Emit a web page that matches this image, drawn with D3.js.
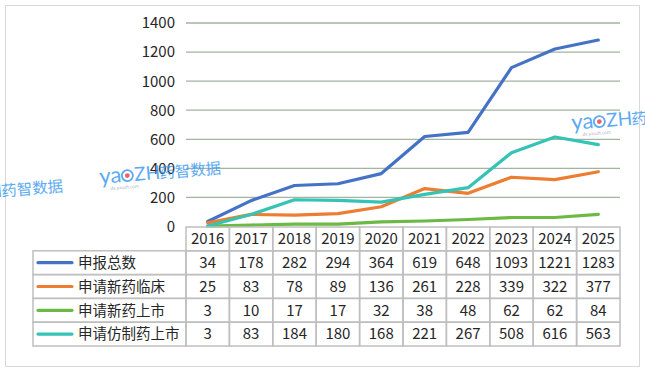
<!DOCTYPE html>
<html>
<head>
<meta charset="utf-8">
<script src="https://cdn.jsdelivr.net/npm/d3@7"></script>
<style>
  body { margin: 0; background: #fff; }
  svg { display: block; font-family: "Noto Sans CJK SC", "Noto Sans", sans-serif; }
</style>
</head>
<body>
<svg id="chart" width="645" height="372"></svg>
<script>
// chart data
var years = ["2016", "2017", "2018", "2019", "2020", "2021", "2022", "2023", "2024", "2025"];
var seriesNames = ["申报总数", "申请新药临床", "申请新药上市", "申请仿制药上市"];
var totalApps   = [34, 178, 282, 294, 364, 619, 648, 1093, 1221, 1283];
var newDrugIND  = [25, 83, 78, 89, 136, 261, 228, 339, 322, 377];
var newDrugNDA  = [3, 10, 17, 17, 32, 38, 48, 62, 62, 84];
var genericANDA = [3, 83, 184, 180, 168, 221, 267, 508, 616, 563];
var yTicks = [0, 200, 400, 600, 800, 1000, 1200, 1400];

var seriesValues = [totalApps, newDrugIND, newDrugNDA, genericANDA];
var colors = ["#4472C4", "#ED7D31", "#6CBA45", "#34C3B5"];

var svg = d3.select("#chart");

// outer frame
svg.append("rect")
  .attr("x", 5.5).attr("y", 5.5)
  .attr("width", 634).attr("height", 361)
  .attr("fill", "#fff")
  .attr("stroke", "#d9d9d9");

var plotLeft = 186, plotRight = 620;
var x = d3.scaleBand().domain(years).range([plotLeft, plotRight]);
var y = d3.scaleLinear().domain([0, 1400]).range([226.5, 23]);

// gridlines
svg.append("g")
  .selectAll("line")
  .data(yTicks.slice(1))
  .enter().append("line")
  .attr("x1", plotLeft).attr("x2", plotRight)
  .attr("y1", function(d) { return y(d); })
  .attr("y2", function(d) { return y(d); })
  .attr("stroke", "#a3b4a0")
  .attr("stroke-width", 1.3);

// y axis labels
svg.append("g")
  .selectAll("text")
  .data(yTicks)
  .enter().append("text")
  .attr("x", 175)
  .attr("y", function(d) { return y(d); })
  .attr("dy", "0.36em")
  .attr("text-anchor", "end")
  .attr("font-size", 15)
  .attr("fill", "#262626")
  .text(function(d) { return d; });

// lines
var line = d3.line()
  .x(function(d, i) { return x(years[i]) + x.bandwidth() / 2; })
  .y(function(d) { return y(d); });

svg.append("g")
  .selectAll("path")
  .data(seriesValues)
  .enter().append("path")
  .attr("d", line)
  .attr("fill", "none")
  .attr("stroke", function(d, i) { return colors[i]; })
  .attr("stroke-width", 3.2)
  .attr("stroke-linejoin", "round")
  .attr("stroke-linecap", "round");

// data table
var tableTop = 227, rowH = 23.8, legendLeft = 33;
var table = svg.append("g");
var gridColor = "#bfbfbf";

// header row
table.selectAll(".hdr")
  .data(years)
  .enter().append("rect")
  .attr("class", "hdr")
  .attr("x", function(d) { return x(d); })
  .attr("y", tableTop)
  .attr("width", x.bandwidth())
  .attr("height", rowH)
  .attr("fill", "none")
  .attr("stroke", gridColor)
  .attr("stroke-width", 1.5);

table.selectAll(".hdrText")
  .data(years)
  .enter().append("text")
  .attr("x", function(d) { return x(d) + x.bandwidth() / 2; })
  .attr("y", tableTop + rowH / 2)
  .attr("dy", "0.36em")
  .attr("text-anchor", "middle")
  .attr("font-size", 15)
  .attr("fill", "#262626")
  .text(function(d) { return d; });

var rows = table.selectAll(".row")
  .data(seriesValues)
  .enter().append("g")
  .attr("class", "row")
  .attr("transform", function(d, i) { return "translate(0," + (tableTop + rowH * (i + 1)) + ")"; });

rows.append("rect")
  .attr("x", legendLeft)
  .attr("width", plotLeft - legendLeft)
  .attr("height", rowH)
  .attr("fill", "none")
  .attr("stroke", gridColor)
  .attr("stroke-width", 1.5);

rows.append("line")
  .attr("x1", 38).attr("x2", 72)
  .attr("y1", rowH / 2).attr("y2", rowH / 2)
  .attr("stroke", function(d, i) { return colors[i]; })
  .attr("stroke-width", 3.2)
  .attr("stroke-linecap", "round");

rows.append("text")
  .attr("x", 78)
  .attr("y", rowH / 2)
  .attr("dy", "0.36em")
  .attr("font-size", 14.5)
  .attr("fill", "#262626")
  .text(function(d, i) { return seriesNames[i]; });

rows.selectAll(".cell")
  .data(function(d) { return d; })
  .enter().append("rect")
  .attr("class", "cell")
  .attr("x", function(d, i) { return x(years[i]); })
  .attr("width", x.bandwidth())
  .attr("height", rowH)
  .attr("fill", "none")
  .attr("stroke", gridColor)
  .attr("stroke-width", 1.5);

rows.selectAll(".val")
  .data(function(d) { return d; })
  .enter().append("text")
  .attr("class", "val")
  .attr("x", function(d, i) { return x(years[i]) + x.bandwidth() / 2; })
  .attr("y", rowH / 2)
  .attr("dy", "0.36em")
  .attr("text-anchor", "middle")
  .attr("font-size", 15)
  .attr("fill", "#262626")
  .text(function(d) { return d; });

// watermarks
function watermark(px, py) {
  var g = svg.append("g")
    .attr("transform", "translate(" + px + "," + py + ") rotate(-5)")
    .attr("fill", "#3f9cf0")
    .attr("opacity", 0.85);
  g.append("text").attr("x", 0).attr("y", 0)
    .attr("font-size", 22)
    .attr("font-family", "Lato, 'Open Sans', sans-serif")
    .text("ya");
  g.append("circle").attr("cx", 28).attr("cy", -6).attr("r", 5.5)
    .attr("fill", "none").attr("stroke", "#3f9cf0").attr("stroke-width", 1.8);
  g.append("circle").attr("cx", 28).attr("cy", -6).attr("r", 2.4)
    .attr("fill", "#e8484f");
  g.append("text").attr("x", 35).attr("y", 0)
    .attr("font-size", 19)
    .attr("font-family", "Lato, 'Open Sans', sans-serif")
    .text("ZH");
  g.append("text").attr("x", 60).attr("y", 0)
    .attr("font-size", 15.5)
    .text("药智数据");
  g.append("text").attr("x", 10).attr("y", 7)
    .attr("font-size", 4.5).attr("fill", "#9aa5b5")
    .text("dx.yaozh.com");
}
watermark(-58, 202);
watermark(100, 184);
watermark(572, 130);
</script>
</body>
</html>
